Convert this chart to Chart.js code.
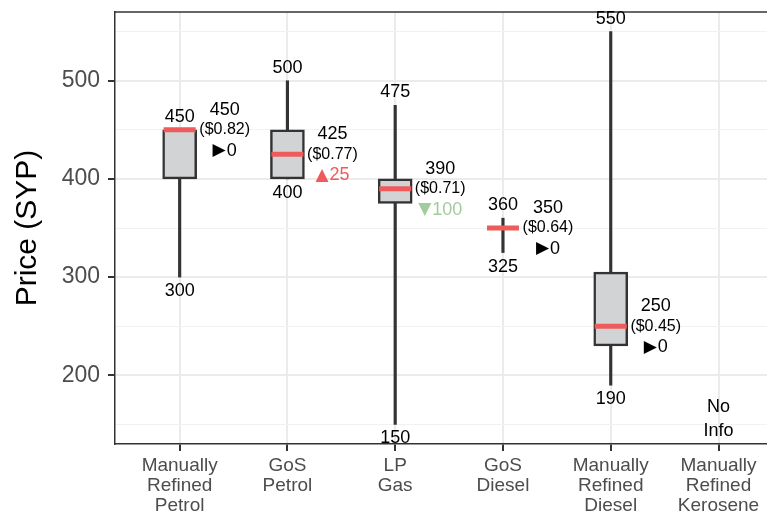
<!DOCTYPE html>
<html>
<head>
<meta charset="utf-8">
<script src="https://cdn.jsdelivr.net/npm/chart.js@4/dist/chart.umd.min.js"></script>
<style>
  html, body { margin: 0; padding: 0; background: #fff; overflow: hidden; }
</style>
</head>
<body>
<canvas id="myChart" width="767" height="513"></canvas>
<script>
// fuel price box plot, SYP
const categories = [
  ['Manually', 'Refined', 'Petrol'],
  ['GoS', 'Petrol'],
  ['LP', 'Gas'],
  ['GoS', 'Diesel'],
  ['Manually', 'Refined', 'Diesel'],
  ['Manually', 'Refined', 'Kerosene']
];
const whiskerLow  = [300, 400, 150, 325, 190, null];
const whiskerHigh = [450, 500, 475, 360, 550, null];
const boxLow      = [400, 400, 375, 350, 230, null];
const boxHigh     = [450, 450, 400, 350, 305, null];
const medians     = [450, 425, 390, 350, 250, null];
const usdPrice    = [0.82, 0.77, 0.71, 0.64, 0.45, null];
const change      = [0, 25, -100, 0, 0, null];
const yTicks      = [150, 200, 250, 300, 350, 400, 450, 500, 550];

const FONT = '"Liberation Sans", Arial, sans-serif';
const RED = '#ef5b5b';
const GREEN = '#a2cc9e';

function pts(lo, hi) {
  const out = [];
  for (let i = 0; i < lo.length; i++) {
    if (lo[i] == null) continue;
    out.push({ x: i + 1, y: hi ? [lo[i], hi[i]] : lo[i] });
  }
  return out;
}

function noPad(scale) {
  scale.paddingLeft = 0;
  scale.paddingRight = 0;
  scale.paddingTop = 0;
  scale.paddingBottom = 0;
}

// text labels next to the boxes
const labelPlugin = {
  id: 'boxLabels',
  afterDatasetsDraw(chart) {
    const ctx = chart.ctx;
    const xs = chart.scales.x, ys = chart.scales.y;
    const area = chart.chartArea;
    ctx.save();
    // top border of panel
    ctx.strokeStyle = '#333';
    ctx.lineWidth = 1.5;
    ctx.beginPath();
    ctx.moveTo(area.left, area.top);
    ctx.lineTo(area.right, area.top);
    ctx.stroke();

    ctx.textAlign = 'center';
    ctx.textBaseline = 'middle';
    for (let i = 0; i < categories.length; i++) {
      const px = xs.getPixelForValue(i + 1);
      if (medians[i] == null) {
        ctx.fillStyle = '#000';
        ctx.font = '18px ' + FONT;
        const py = ys.getPixelForValue(155);
        ctx.fillText('No', px, py - 12);
        ctx.fillText('Info', px, py + 12);
        continue;
      }
      ctx.fillStyle = '#000';
      ctx.font = '18px ' + FONT;
      ctx.fillText(String(whiskerHigh[i]), px, ys.getPixelForValue(whiskerHigh[i]) - 13);
      ctx.fillText(String(whiskerLow[i]), px, ys.getPixelForValue(whiskerLow[i]) + 14);

      const sx = px + 45;
      const my = ys.getPixelForValue(medians[i]);
      ctx.fillText(String(medians[i]), sx, my - 20);
      ctx.font = '16px ' + FONT;
      ctx.fillText('($' + usdPrice[i].toFixed(2) + ')', sx, my);

      // change vs previous: arrow + number
      let arrow, col;
      if (change[i] > 0) { arrow = '\u25B2'; col = RED; }
      else if (change[i] < 0) { arrow = '\u25BC'; col = GREEN; }
      else { arrow = '\u25B6'; col = '#000'; }
      const num = String(Math.abs(change[i]));
      ctx.font = '17px "DejaVu Sans"';
      const wA = ctx.measureText(arrow).width;
      ctx.font = '18px ' + FONT;
      const wN = ctx.measureText(num).width;
      const gap = 1;
      let x0 = sx - (wA + gap + wN) / 2;
      const cy = my + 21;
      ctx.fillStyle = col;
      ctx.textAlign = 'left';
      ctx.font = '17px "DejaVu Sans"';
      ctx.fillText(arrow, x0, cy);
      ctx.font = '18px ' + FONT;
      ctx.fillText(num, x0 + wA + gap, cy);
      ctx.textAlign = 'center';
    }
    ctx.restore();
  }
};

const ctx = document.getElementById('myChart').getContext('2d');
const myChart = new Chart(ctx, {
  type: 'bar',
  data: {
    datasets: [
      {
        label: 'median',
        type: 'scatter',
        data: pts(medians),
        pointStyle: 'line',
        radius: 16,
        hoverRadius: 16,
        borderWidth: 5,
        borderColor: RED,
        order: 1
      },
      {
        label: 'box',
        data: pts(boxLow, boxHigh),
        backgroundColor: '#d2d3d5',
        borderColor: '#333333',
        borderWidth: 2.5,
        borderSkipped: false,
        barThickness: 34,
        grouped: false,
        order: 2
      },
      {
        label: 'whisker',
        data: pts(whiskerLow, whiskerHigh),
        backgroundColor: '#333333',
        borderWidth: 0,
        barThickness: 2.5,
        grouped: false,
        order: 3
      }
    ]
  },
  options: {
    responsive: false,
    animation: false,
    devicePixelRatio: 1,
    layout: { autoPadding: false, padding: { top: 12, right: 0, bottom: 0, left: 0 } },
    plugins: {
      legend: { display: false },
      tooltip: { enabled: false }
    },
    scales: {
      x: {
        type: 'linear',
        min: 0.4,
        max: 6.45,
        offset: false,
        afterBuildTicks(scale) {
          scale.ticks = categories.map((c, i) => ({ value: i + 1 }));
        },
        afterFit(scale) { scale.height = 69; noPad(scale); },
        ticks: {
          autoSkip: false,
          maxRotation: 0,
          padding: 5,
          color: '#4d4d4d',
          font: { family: FONT, size: 19, lineHeight: 1.05 },
          callback: (v) => categories[Math.round(v) - 1]
        },
        grid: {
          offset: false,
          color: '#ebebeb',
          lineWidth: 2,
          tickColor: '#333',
          tickLength: 7,
          tickWidth: 2
        },
        border: { display: true, color: '#333', width: 1.5 }
      },
      y: {
        min: 130,
        max: 570,
        afterBuildTicks(scale) {
          scale.ticks = yTicks.map(v => ({ value: v }));
        },
        afterFit(scale) { scale.width = 115; noPad(scale); },
        ticks: {
          padding: 8,
          color: '#4d4d4d',
          font: { family: FONT, size: 23 },
          callback: (v) => (v % 100 === 0 ? String(v) : '')
        },
        grid: {
          color: (c) => (c.tick && c.tick.value % 100 === 0 ? '#ebebeb' : '#f2f2f2'),
          lineWidth: (c) => (c.tick && c.tick.value % 100 === 0 ? 2 : 1),
          tickColor: (c) => (c.tick && c.tick.value % 100 === 0 ? '#333' : 'rgba(0,0,0,0)'),
          tickLength: 7,
          tickWidth: 2
        },
        border: { display: true, color: '#333', width: 1.5 },
        title: {
          display: true,
          text: 'Price (SYP)',
          color: '#000',
          font: { family: FONT, size: 30 },
          padding: { top: 10, bottom: 0 }
        }
      }
    }
  },
  plugins: [labelPlugin]
});
</script>
</body>
</html>
